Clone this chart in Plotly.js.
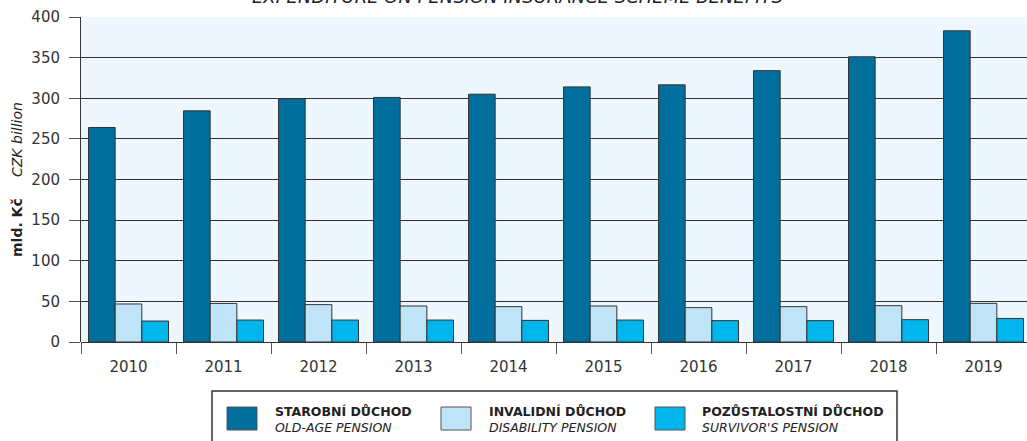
<!DOCTYPE html>
<html>
<head>
<meta charset="utf-8">
<script src="https://cdn.plot.ly/plotly-3.0.1.min.js"></script>
<style>
html,body{margin:0;padding:0;overflow:hidden;background:#fff;}
#chart{width:1040px;height:441px;}
</style>
</head>
<body>
<div id="chart"></div>
<script>
// ---- data ----
const years = ['2010','2011','2012','2013','2014','2015','2016','2017','2018','2019'];
const oldAge     = [264, 284.5, 299.5, 301, 305, 314, 316.5, 334, 351, 383];
const disability = [46.8, 47.5, 46, 44.3, 43.5, 44.3, 42.3, 43.5, 44.7, 47.6];
const survivor   = [25.8, 27, 27, 27, 26.6, 27, 26.3, 26.3, 27.5, 29];
const seriesNamesCz = ['STAROBNÍ DŮCHOD','INVALIDNÍ DŮCHOD','POZŮSTALOSTNÍ DŮCHOD'];
const seriesNamesEn = ['OLD-AGE PENSION','DISABILITY PENSION',"SURVIVOR'S PENSION"];
const seriesColors = ['#006f9d','#bfe4f8','#00b5eb'];
const titleText = 'EXPENDITURE ON PENSION INSURANCE SCHEME BENEFITS';
const yTitleCz = 'mld. Kč';
const yTitleEn = 'CZK billion';

// ---- layout helpers ----
const W = 1040, H = 441, ML = 81, MR = 9, MT = 17, MB = 99;
const PW = W - ML - MR, PH = H - MT - MB;
const px = x => (x - ML) / PW;
const py = y => (H - MB - y) / PH;

const FONT = 'DejaVu Sans, Liberation Sans, Arial, sans-serif';
const seriesValues = [oldAge, disability, survivor];

const traces = seriesValues.map((vals, i) => ({
  type: 'bar',
  x: years,
  y: vals,
  name: seriesNamesCz[i],
  marker: {color: seriesColors[i], line: {color: '#333', width: 1}},
  hoverinfo: 'x+y'
}));

const shapes = [];
const annotations = [];

// legend box
shapes.push({type:'rect', xref:'paper', yref:'paper',
  x0: px(212), x1: px(897), y0: py(391), y1: py(470),
  line:{color:'#333', width:1.5}, fillcolor:'rgba(0,0,0,0)'});
const swX = [227, 441, 655];
const txX = [273, 487, 700];
for (let i = 0; i < 3; i++) {
  shapes.push({type:'rect', xref:'paper', yref:'paper',
    x0: px(swX[i]), x1: px(swX[i] + 30), y0: py(407), y1: py(430),
    line:{color:'#555', width:1}, fillcolor: seriesColors[i]});
  annotations.push({xref:'paper', yref:'paper', x: px(txX[i]), y: py(402),
    xanchor:'left', yanchor:'top', align:'left', showarrow:false,
    text: '<b>' + seriesNamesCz[i] + '</b><br><i>' + seriesNamesEn[i] + '</i>',
    font:{family:FONT, size:12.5, color:'#222'}});
}

// title (clipped at top of image, as in the reference)
annotations.push({xref:'paper', yref:'paper', x: px(517), y: py(9),
  xanchor:'center', yanchor:'bottom', showarrow:false,
  text: '<i>' + titleText + '</i>',
  font:{family:FONT, size:18, color:'#222'}});

// y-axis titles (rotated)
annotations.push({xref:'paper', yref:'paper', x: px(17), y: py(228),
  xanchor:'center', yanchor:'middle', textangle:-90, showarrow:false,
  text: '<b>' + yTitleCz + '</b>', font:{family:FONT, size:14, color:'#222'}});
annotations.push({xref:'paper', yref:'paper', x: px(17), y: py(140),
  xanchor:'center', yanchor:'middle', textangle:-90, showarrow:false,
  text: '<i>' + yTitleEn + '</i>', font:{family:FONT, size:14, color:'#222'}});

const layout = {
  width: W, height: H,
  margin: {l: ML, r: MR, t: MT, b: MB, pad: 0},
  paper_bgcolor: '#fff',
  plot_bgcolor: '#eef7fd',
  barmode: 'group',
  bargap: 0.158,
  bargroupgap: 0,
  showlegend: false,
  font: {family: FONT, color: '#333'},
  xaxis: {
    type: 'category',
    tickson: 'boundaries',
    ticks: 'outside', ticklen: 11, tickcolor: '#555', tickwidth: 1,
    ticklabelstandoff: 14,
    showline: false, showgrid: false, zeroline: false,
    tickfont: {family: FONT, size: 15, color: '#333'},
    fixedrange: true
  },
  yaxis: {
    range: [0, 400],
    tickvals: [0,50,100,150,200,250,300,350,400],
    ticks: 'outside', ticklen: 11, tickcolor: '#555', tickwidth: 1,
    ticklabelstandoff: 6,
    showline: true, linecolor: '#333', linewidth: 1,
    showgrid: true, gridcolor: '#333', gridwidth: 1,
    zeroline: true, zerolinecolor: '#333', zerolinewidth: 1,
    tickfont: {family: FONT, size: 15, color: '#333'},
    fixedrange: true
  },
  shapes: shapes,
  annotations: annotations
};

Plotly.newPlot('chart', traces, layout, {displayModeBar: false, staticPlot: true});
</script>
</body>
</html>
